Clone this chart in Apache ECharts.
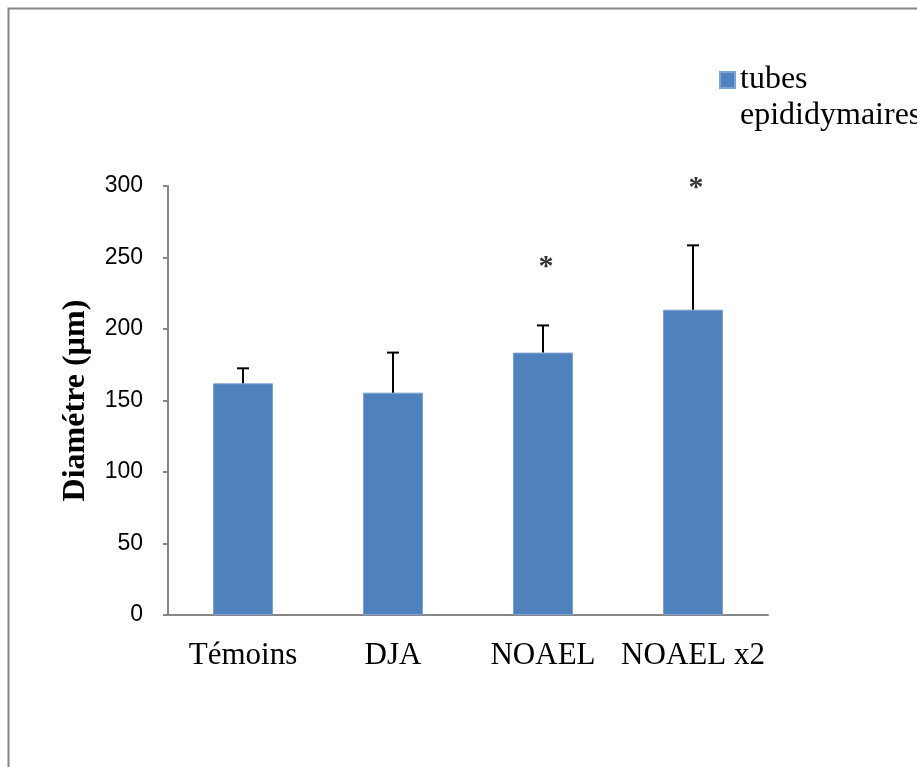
<!DOCTYPE html>
<html>
<head>
<meta charset="utf-8">
<script src="https://cdn.jsdelivr.net/npm/echarts@6/dist/echarts.min.js"></script>
<style>
  html, body { margin: 0; padding: 0; background: #fff; }
  #chart { width: 917px; height: 767px; }
</style>
</head>
<body>
<div id="chart"></div>
<script>
// Mean tubule diameter per group, with standard deviation (µm)
const categories = ['Témoins', 'DJA', 'NOAEL', 'NOAEL x2'];
const means = [162, 155.5, 183.5, 213.5];
const upperErrors = [172.5, 183.5, 202.5, 258.5];
// Significance marks: [category index, value height]
const significance = [[2, 246], [3, 301]];
const yTicks = [0, 50, 100, 150, 200, 250, 300];
const seriesName = 'tubes epididymaires';

const chart = echarts.init(document.getElementById('chart'));

chart.setOption({
  animation: false,
  backgroundColor: '#ffffff',
  graphic: [{
    type: 'rect',
    shape: { x: 8.5, y: 8.5, width: 1000, height: 1000 },
    style: { fill: 'none', stroke: '#868686', lineWidth: 2 },
    silent: true
  }],
  grid: { left: 168, right: 149, top: 186, bottom: 152 },
  legend: {
    left: 719,
    top: 26,
    padding: 0,
    itemWidth: 15,
    itemHeight: 16,
    icon: 'rect',
    data: [seriesName],
    // leading empty line keeps the swatch level with the first text line
    formatter: function () { return '\ntubes\nepididymaires'; },
    textStyle: {
      fontFamily: 'Liberation Serif',
      fontSize: 32,
      color: '#000',
      lineHeight: 36
    }
  },
  xAxis: {
    type: 'category',
    data: categories,
    axisLine: { lineStyle: { color: '#868686', width: 2 } },
    axisTick: { show: false },
    axisLabel: {
      interval: 0,
      hideOverlap: false,
      fontFamily: 'Liberation Serif',
      fontSize: 31,
      color: '#000',
      margin: 25
    }
  },
  yAxis: {
    type: 'value',
    min: yTicks[0],
    max: yTicks[yTicks.length - 1],
    interval: 50,
    name: 'Diamétre (µm)',
    nameLocation: 'middle',
    nameGap: 76,
    nameRotate: 90,
    nameTextStyle: {
      fontFamily: 'Liberation Serif',
      fontSize: 32,
      fontWeight: 'bold',
      color: '#000'
    },
    axisLine: { show: true, lineStyle: { color: '#868686', width: 2 } },
    axisTick: { show: true, length: 5, lineStyle: { color: '#868686', width: 2 } },
    splitLine: { show: false },
    axisLabel: {
      fontFamily: 'Liberation Sans',
      fontSize: 23,
      color: '#000',
      margin: 25
    }
  },
  series: [
    {
      name: seriesName,
      type: 'bar',
      data: means,
      barWidth: '40%',
      itemStyle: { color: '#4F81BD', borderColor: '#7FA3D0', borderWidth: 1 }
    },
    {
      type: 'custom',
      name: 'sd',
      data: upperErrors.map((v, i) => [i, means[i], v]),
      z: 5,
      renderItem: function (params, api) {
        const base = api.coord([api.value(0), api.value(1)]);
        const top = api.coord([api.value(0), api.value(2)]);
        const cap = 6;
        return {
          type: 'group',
          children: [
            { type: 'line', shape: { x1: base[0], y1: base[1], x2: top[0], y2: top[1] },
              style: { stroke: '#000', lineWidth: 2 } },
            { type: 'line', shape: { x1: top[0] - cap, y1: top[1], x2: top[0] + cap, y2: top[1] },
              style: { stroke: '#000', lineWidth: 2 } }
          ]
        };
      }
    },
    {
      type: 'scatter',
      name: 'sig',
      data: significance,
      symbolSize: 0,
      clip: false,
      label: {
        show: true,
        position: 'inside',
        formatter: '*',
        fontFamily: 'Liberation Serif',
        fontWeight: 'bold',
        fontSize: 30,
        color: '#000',
        offset: [3, 4]
      }
    }
  ]
});
</script>
</body>
</html>
